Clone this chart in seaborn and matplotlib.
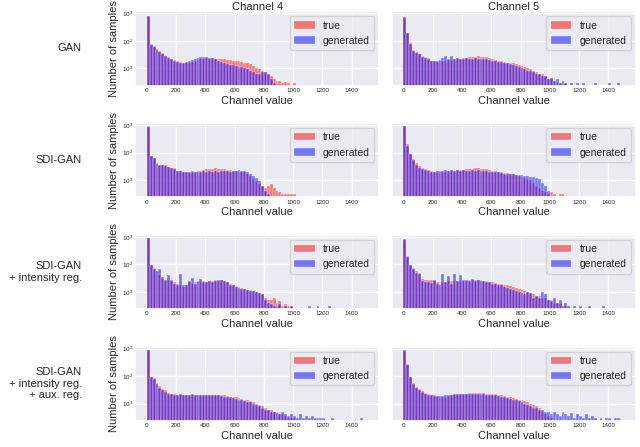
import numpy as np
import pandas as pd
import matplotlib.pyplot as plt
import seaborn as sns

sns.set_theme(style='darkgrid')
plt.rcParams['font.family'] = ['Liberation Sans', 'DejaVu Sans']

# histogram bins (channel value), 20 units wide
bin_edges = list(range(0, 1521, 20))
centers = np.array(bin_edges[:-1]) + 10
n_bins = len(centers)

row_labels = ['GAN', 'SDI-GAN', 'SDI-GAN\n+ intensity reg.', 'SDI-GAN\n+ intensity reg.\n+ aux. reg.']
col_titles = ['Channel 4', 'Channel 5']

# counts per bin (0 = empty bin)
ch4_gan_true = [800, 75, 62, 50, 42, 35, 28, 25, 22, 20, 18, 17, 16, 15, 16, 17, 18, 20, 21, 22,
                23, 22, 23, 21, 22, 22, 21, 20, 20, 19, 18, 18, 17, 16, 15, 14, 12, 10, 9, 8,
                7, 6, 5, 4, 3.5, 3.5, 3, 3.2, 3, 0, 3]
ch4_gan_gen = [820, 70, 58, 47, 40, 33, 27, 24, 21, 19, 17, 16, 16, 17, 18, 20, 21, 23, 25, 26,
               25, 24, 23, 21, 19, 17, 15, 14, 13, 13, 12, 11, 11, 10, 9, 8, 7, 6, 6, 7,
               7, 6, 4, 3]
ch5_gan_true = [700, 200, 80, 46, 38, 34, 27, 25, 23, 19, 18, 17, 18, 18, 19, 20, 20, 21, 21, 22,
                23, 24, 25, 26, 26, 27, 26, 26, 25, 24, 22, 20, 19, 18, 17, 16, 15, 15, 14, 13,
                12, 11, 10, 9, 8, 7, 6, 6, 5, 4, 4, 3.5, 3, 3, 0, 3]
ch5_gan_gen = [720, 190, 75, 44, 36, 33, 26, 24, 22, 19, 18, 18, 20, 24, 28, 22, 27, 21, 23, 22,
               22, 23, 22, 22, 23, 22, 22, 21, 21, 20, 19, 18, 17, 17, 16, 15, 14, 13, 12, 11,
               10, 9, 8, 8, 7, 6, 6, 5, 5, 4, 4.5, 3.5, 4, 3, 3.5, 3, 0, 3, 0, 3,
               0, 3, 0, 0, 0, 3, 0, 0, 0, 0, 3, 0, 0, 3]

ch4_sdi_true = [900, 78, 66, 40, 36, 35, 34, 30, 28, 27, 22, 21, 20, 20, 20, 21, 20, 21, 22, 23,
                25, 26, 25, 27, 26, 25, 25, 24, 23, 22, 21, 20, 20, 19, 17, 14, 11, 9, 7, 6,
                5, 6, 7, 5, 4, 3.5, 3, 3.2, 3, 3, 3]
ch4_sdi_gen = [880, 76, 64, 38, 36, 34, 33, 30, 28, 26, 21, 21, 20, 20, 19, 20, 20, 20, 20, 21,
               20, 21, 20, 21, 20, 21, 22, 21, 20, 21, 22, 23, 22, 21, 19, 16, 14, 12, 9, 6,
               4, 3]
ch5_sdi_true = [900, 200, 90, 60, 40, 32, 28, 26, 24, 22, 20, 19, 19, 20, 20, 21, 22, 22, 23, 24,
                24, 25, 25, 26, 27, 27, 26, 26, 25, 24, 22, 21, 20, 19, 18, 18, 17, 16, 15, 14,
                13, 12, 11, 10, 8, 6, 5, 4, 3.5, 3.2, 3.5, 3, 0, 3, 3]
ch5_sdi_gen = [950, 180, 85, 55, 34, 28, 25, 23, 21, 20, 20, 21, 22, 22, 23, 22, 23, 22, 23, 22,
               23, 22, 22, 23, 22, 23, 22, 22, 21, 20, 20, 19, 19, 18, 17, 17, 16, 16, 15, 15,
               15, 14, 14, 13, 13, 12, 11, 8, 6, 4]

ch4_int_true = [900, 97, 75, 56, 40, 30, 28, 26, 24, 22, 20, 17, 15, 18, 22, 20, 22, 23, 22, 24,
                23, 24, 25, 26, 25, 27, 24, 22, 20, 18, 16, 15, 14, 13, 12, 12, 11, 10, 9, 8,
                6, 5, 5, 6, 4, 4.5, 3, 3.5, 3, 3]
ch4_int_gen = [880, 95, 70, 55, 65, 35, 28, 40, 26, 20, 17, 45, 18, 17, 24, 33, 20, 25, 30, 22,
               23, 24, 22, 25, 26, 28, 25, 22, 18, 17, 15, 14, 13, 13, 12, 11, 11, 10, 9, 8,
               5, 4, 3.5, 3, 3, 3.5, 0, 3, 0, 3, 0, 0, 0, 0, 0, 3, 0, 0, 3, 0,
               0, 0, 3]
ch5_int_true = [800, 200, 97, 75, 55, 48, 30, 28, 28, 27, 25, 22, 20, 22, 23, 24, 25, 24, 25, 24,
                25, 25, 26, 27, 27, 26, 27, 25, 24, 23, 22, 21, 20, 19, 18, 17, 16, 15, 14, 13,
                12, 11, 10, 9, 8, 7, 7, 6, 6, 5, 5, 4, 4, 3.5, 3, 3]
ch5_int_gen = [820, 190, 95, 70, 50, 45, 25, 22, 22, 21, 28, 20, 18, 45, 22, 38, 20, 46, 24, 40,
               26, 28, 24, 30, 25, 26, 24, 25, 22, 23, 20, 19, 18, 17, 15, 14, 13, 12, 11, 10,
               9, 8, 10, 9, 6, 7, 6, 10, 8, 5, 4.5, 6, 4, 5, 3, 4, 3, 0, 3, 0,
               3, 0, 0, 3, 0, 0, 0, 0, 3]

ch4_aux_true = [900, 95, 83, 55, 42, 34, 30, 25, 22, 22, 21, 21, 20, 20, 20, 20, 21, 20, 20, 20,
                20, 20, 21, 20, 20, 21, 20, 19, 18, 17, 17, 16, 15, 14, 13, 12, 11, 10, 9, 8,
                7, 6, 6, 5, 5, 4, 4, 3.5, 3, 3, 3]
ch4_aux_gen = [920, 92, 80, 52, 38, 30, 26, 23, 22, 21, 21, 22, 20, 21, 20, 22, 20, 21, 20, 20,
               21, 20, 20, 20, 21, 19, 18, 18, 17, 16, 15, 14, 13, 12, 11, 11, 10, 9, 8, 7,
               6, 6, 5, 5, 4.5, 4, 5, 4, 3.5, 4, 3.5, 3, 4, 3, 3.5, 3, 3.5, 3, 3, 3,
               3, 0, 0, 3, 0, 0, 0, 0, 0, 0, 0, 0, 0, 3]
ch5_aux_true = [850, 280, 95, 55, 40, 33, 28, 25, 22, 21, 20, 19, 18, 18, 18, 19, 20, 21, 22, 22,
                23, 23, 24, 24, 25, 25, 24, 24, 23, 23, 22, 22, 21, 20, 19, 18, 17, 16, 15, 14,
                13, 12, 11, 10, 9, 8, 7, 5, 4, 3.5, 3]
ch5_aux_gen = [870, 260, 90, 50, 36, 30, 26, 23, 21, 20, 19, 19, 19, 19, 20, 20, 21, 22, 22, 23,
               23, 23, 22, 23, 22, 22, 23, 22, 21, 21, 20, 20, 19, 18, 17, 16, 15, 14, 13, 12,
               11, 10, 9, 8, 7, 7, 6, 6, 5, 5, 4, 5, 4, 3.5, 5, 4, 3.5, 4.5, 3, 4,
               3.5, 3, 4, 3, 3.5, 3, 0, 3, 0, 3, 3, 0, 3, 3]

panels = [
    [(ch4_gan_true, ch4_gan_gen), (ch5_gan_true, ch5_gan_gen)],
    [(ch4_sdi_true, ch4_sdi_gen), (ch5_sdi_true, ch5_sdi_gen)],
    [(ch4_int_true, ch4_int_gen), (ch5_int_true, ch5_int_gen)],
    [(ch4_aux_true, ch4_aux_gen), (ch5_aux_true, ch5_aux_gen)],
]

fig, axes = plt.subplots(4, 2, figsize=(6.4, 4.47), dpi=100, sharey=True)
plt.subplots_adjust(left=0.211, right=0.994, top=0.975, bottom=0.058, wspace=0.05, hspace=0.5)

for r in range(4):
    for c in range(2):
        ax = axes[r, c]
        true_counts, gen_counts = panels[r][c]
        for counts, color, label in [(true_counts, 'red', 'true'), (gen_counts, 'blue', 'generated')]:
            counts = np.array(counts + [0] * (n_bins - len(counts)), dtype=float)
            df = pd.DataFrame({'value': centers, 'count': counts})
            df = df[df['count'] > 0]
            sns.histplot(data=df, x='value', weights='count', bins=bin_edges,
                         color=color, alpha=0.5, ax=ax, label=label)
        ax.set_yscale('log')
        ax.set_ylim(2.3, 1200)
        ax.set_xlim(-80, 1590)
        ax.set_xticks(range(0, 1401, 200))
        ax.tick_params(labelsize=4.5, pad=1.5, length=0)
        ax.set_xlabel('Channel value', fontsize=8, labelpad=2)
        ax.set_ylabel('Number of samples' if c == 0 else '', fontsize=8, labelpad=2)
        ax.legend(fontsize=7.5, loc='upper right')
        if r == 0:
            ax.set_title(col_titles[c], fontsize=8, pad=1)

# row labels on the left
for r in range(4):
    pos = axes[r, 0].get_position()
    fig.text(82 / 640, (pos.y0 + pos.y1) / 2, row_labels[r], ha='right', va='center',
             multialignment='right', fontsize=8)

plt.savefig('out.png', dpi=100)
